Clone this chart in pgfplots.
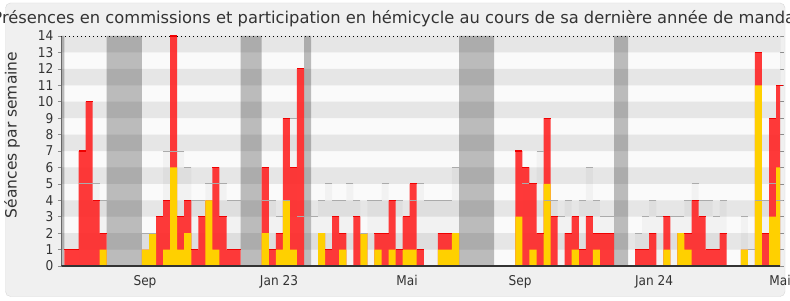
\documentclass[border=0pt]{standalone}
\usepackage{pgfplots}
\pgfplotsset{compat=1.18}
\usepackage{pgfplotstable}
\usepackage{fontspec}
\setmainfont{DejaVu Sans}
\newfontfamily\condfont{DejaVu Sans Condensed}
\definecolor{stripe}{HTML}{E6E6E6}
\definecolor{bgplot}{HTML}{FAFAFA}
\definecolor{redbar}{HTML}{FF2525}
\definecolor{redtop}{HTML}{F00000}
\definecolor{yellowbar}{HTML}{FFD000}
\definecolor{outerbg}{HTML}{F0F0F0}
\definecolor{txt}{HTML}{333333}

% k = week index, t = total (red), h = hemicycle (yellow), m = median (grey)
\pgfplotstableread{
k t h m
0 1 0 0
1 1 0 0
2 7 0 5
3 10 0 5
4 4 0 5
5 2 1 4
6 0 0 0
7 0 0 0
8 0 0 0
9 0 0 0
10 0 0 0
11 1 1 2
12 2 2 2
13 3 0 3
14 4 1 7
15 14 6 7
16 3 1 7
17 4 2 6
18 1 0 4
19 3 0 4
20 4 4 5
21 6 1 5
22 3 0 5
23 1 0 4
24 1 0 4
25 0 0 0
26 0 0 0
27 0 0 0
28 6 2 4
29 1 0 4
30 2 1 3
31 9 4 4
32 6 1 9
33 12 0 3
34 0 0 0
35 0 0 3
36 2 2 4
37 1 0 5
38 3 0 4
39 2 1 4
40 0 0 5
41 3 0 4
42 2 2 2
43 0 0 4
44 2 1 4
45 2 0 5
46 4 1 4
47 1 0 4
48 3 1 3
49 5 1 4
50 1 0 5
51 0 0 4
52 0 0 4
53 2 1 4
54 2 1 4
55 2 2 6
56 0 0 0
57 0 0 0
58 0 0 0
59 0 0 0
60 0 0 0
61 0 0 0
62 0 0 0
63 0 0 0
64 7 3 0
65 6 0 5
66 5 1 5
67 2 0 7
68 9 5 4
69 3 0 4
70 0 0 3
71 2 0 4
72 3 1 3
73 1 0 4
74 3 0 6
75 2 1 4
76 2 0 3
77 2 0 3
78 0 0 0
79 0 0 0
80 0 0 0
81 1 0 2
82 1 0 3
83 2 0 4
84 0 0 3
85 3 1 3
86 0 0 3
87 2 2 3
88 2 1 4
89 4 0 5
90 3 0 4
91 1 0 4
92 1 0 3
93 2 0 4
94 0 0 0
95 0 0 0
96 1 1 3
97 0 0 1
98 13 11 4
99 2 0 4
100 9 3 5
101 11 6 4
}\data

\begin{document}
\begin{tikzpicture}
\useasboundingbox (0,0) rectangle (790pt,300pt);
\fill[white] (0,0) rectangle (790pt,300pt);
\draw[fill=outerbg, draw=black!15, rounded corners=5pt] (5.5pt,3.5pt) rectangle (785pt,297pt);
\node[font=\fontsize{16.3}{19}\selectfont, text=txt] at (397pt,281pt) {Présences en commissions et participation en hémicycle au cours de sa dernière année de mandat};
\begin{axis}[
  at={(61.3pt,34pt)}, anchor=south west,
  scale only axis, width=718.7pt, height=230pt,
  xmin=-0.95, xmax=101.06, ymin=0, ymax=14,
  axis background/.style={fill=bgplot},
  axis line style={draw=none},
  ytick={0,1,...,14},
  xtick={10.93,29.95,48.12,64.16,83.18,101.06},
  xticklabels={Sep,Jan 23,Mai,Sep,Jan 24,Mai},
  /pgf/number format/assume math mode=true,
  tick align=outside,
  major tick length=3.5pt,
  ytick style={draw=black!45, line width=0.6pt},
  xtick style={draw=none},
  yticklabel style={font=\condfont\fontsize{13.5}{14}\selectfont, text=txt, xshift=-1pt},
  xticklabel style={font=\condfont\fontsize{13.5}{14}\selectfont, text=txt, yshift=-2pt},
  every axis y label/.style={at={(axis description cs:-0.0686,0.57)}, rotate=90, anchor=center, font=\fontsize{15.5}{17}\selectfont, text=txt},
  ylabel={Séances par semaine},
  clip=true,
]
% background stripes
\addplot[fill=stripe, draw=none] coordinates {(-2,1)(103,1)(103,2)(-2,2)(-2,1)};
\addplot[fill=stripe, draw=none] coordinates {(-2,3)(103,3)(103,4)(-2,4)(-2,3)};
\addplot[fill=stripe, draw=none] coordinates {(-2,5)(103,5)(103,6)(-2,6)(-2,5)};
\addplot[fill=stripe, draw=none] coordinates {(-2,7)(103,7)(103,8)(-2,8)(-2,7)};
\addplot[fill=stripe, draw=none] coordinates {(-2,9)(103,9)(103,10)(-2,10)(-2,9)};
\addplot[fill=stripe, draw=none] coordinates {(-2,11)(103,11)(103,12)(-2,12)(-2,11)};
\addplot[fill=stripe, draw=none] coordinates {(-2,13)(103,13)(103,14)(-2,14)(-2,13)};
% holiday bands
\addplot[fill=black, fill opacity=0.25, draw=none] coordinates {(-1.5,0)(-0.5,0)(-0.5,14)(-1.5,14)(-1.5,0)};
\addplot[fill=black, fill opacity=0.25, draw=none] coordinates {(5.5,0)(10.5,0)(10.5,14)(5.5,14)(5.5,0)};
\addplot[fill=black, fill opacity=0.25, draw=none] coordinates {(24.5,0)(27.5,0)(27.5,14)(24.5,14)(24.5,0)};
\addplot[fill=black, fill opacity=0.25, draw=none] coordinates {(33.5,0)(34.5,0)(34.5,14)(33.5,14)(33.5,0)};
\addplot[fill=black, fill opacity=0.25, draw=none] coordinates {(55.5,0)(60.5,0)(60.5,14)(55.5,14)(55.5,0)};
\addplot[fill=black, fill opacity=0.25, draw=none] coordinates {(77.5,0)(79.5,0)(79.5,14)(77.5,14)(77.5,0)};
% median bars
\addplot[ybar, bar width=1, bar shift=0pt, fill=black, fill opacity=0.03, draw=none] table[x=k, y=m] {\data};
\addplot[only marks, mark=-, mark size=3.52pt, mark options={draw=black!33, line width=0.9pt}, restrict expr to domain={\thisrow{m}}{0.5:100}] table[x=k, y=m] {\data};
% total (red)
\addplot[ybar, bar width=1, bar shift=0pt, fill=redbar, fill opacity=0.9, draw=none] table[x=k, y=t] {\data};
\addplot[only marks, mark=-, mark size=3.52pt, mark options={draw=redtop, line width=1.1pt}, restrict expr to domain={\thisrow{t}-\thisrow{h}}{0.5:100}] table[x=k, y=t] {\data};
% hemicycle (yellow)
\addplot[ybar, bar width=1, bar shift=0pt, fill=yellowbar, draw=none] table[x=k, y=h] {\data};
% frame
\draw[black!80, line width=1.1pt] (rel axis cs:0,0) -- (rel axis cs:0,1);
\draw[black!80, line width=1.3pt] (rel axis cs:0,0) -- (rel axis cs:1,0);
\draw[black, line width=0.9pt, dash pattern=on 1pt off 3pt] (rel axis cs:0,1) -- (rel axis cs:1,1);
\draw[black!22, line width=0.8pt] (rel axis cs:1,0) -- (rel axis cs:1,1);
\end{axis}
\end{tikzpicture}
\end{document}
